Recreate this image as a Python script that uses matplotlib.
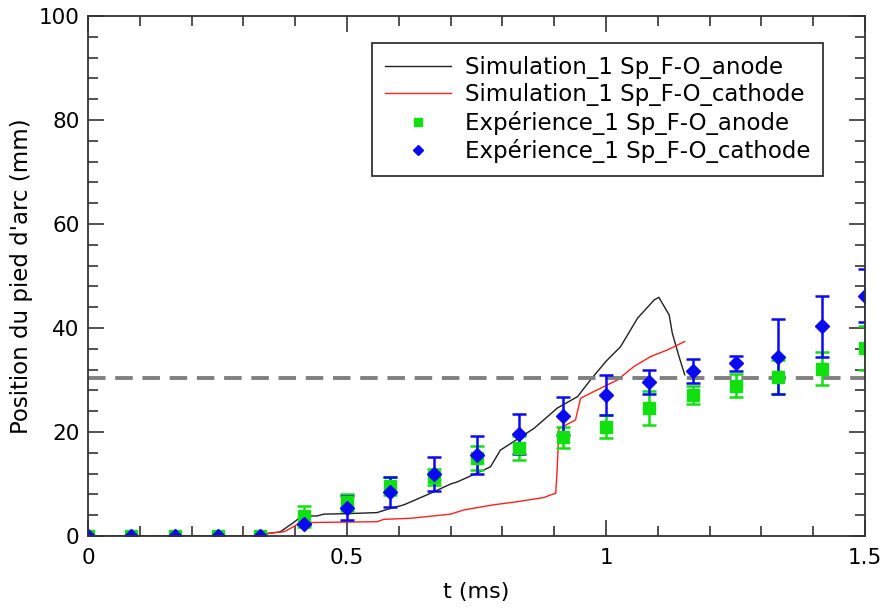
import matplotlib

matplotlib.use("Agg")
import matplotlib.pyplot as plt
from matplotlib.lines import Line2D
from matplotlib.ticker import MultipleLocator

# simulation curves (t in ms, position in mm)
t_sim_anode = [0.0, 0.33, 0.349, 0.371, 0.397, 0.413, 0.442, 0.455, 0.50, 0.558, 0.577,
               0.61, 0.661, 0.70, 0.713, 0.777, 0.796, 0.861, 0.906, 0.945, 0.97,
               1.0, 1.028, 1.061, 1.093, 1.102, 1.122, 1.128, 1.141, 1.152]
pos_sim_anode = [0.0, 0.0, 0.5, 0.8, 2.6, 3.85, 3.85, 4.2, 4.3, 4.5, 5.1,
                 6.0, 8.2, 10.0, 10.4, 13.3, 16.5, 20.7, 24.6, 26.8, 30.0,
                 33.6, 36.4, 41.9, 45.4, 45.9, 42.5, 39.0, 34.5, 31.0]

t_sim_cathode = [0.0, 0.33, 0.345, 0.378, 0.397, 0.41, 0.436, 0.558, 0.571, 0.622,
                 0.70, 0.725, 0.783, 0.829, 0.88, 0.893, 0.903, 0.906, 0.909, 0.916,
                 0.941, 0.951, 0.983, 1.022, 1.054, 1.086, 1.119, 1.152]
pos_sim_cathode = [0.0, 0.0, 0.5, 0.8, 1.8, 2.6, 2.6, 2.75, 3.2, 3.4,
                   4.2, 5.0, 6.0, 6.6, 7.4, 7.9, 8.2, 13.3, 20.7, 21.0,
                   22.3, 26.5, 28.1, 30.0, 32.6, 34.5, 35.8, 37.4]

# experimental points
t_exp = [0.0, 0.083, 0.167, 0.25, 0.333, 0.417, 0.5, 0.583, 0.667, 0.75,
         0.833, 0.917, 1.0, 1.083, 1.167, 1.25, 1.333, 1.417, 1.5]
exp_anode = [0, 0, 0, 0, 0, 3.8, 6.5, 9.6, 11.4, 15.0,
             17.0, 19.0, 21.0, 24.6, 27.1, 28.9, 30.6, 32.2, 36.1]
exp_anode_err = [0, 0, 0, 0, 0, 2.0, 1.6, 1.8, 1.5, 2.3,
                 2.3, 2.0, 2.2, 3.2, 1.8, 2.2, 3.3, 3.2, 4.2]
exp_cathode = [0, 0, 0, 0, 0, 2.4, 5.3, 8.5, 11.9, 15.6,
               19.6, 23.1, 27.1, 29.7, 31.8, 33.2, 34.5, 40.3, 46.2]
exp_cathode_err = [0, 0, 0, 0, 0, 0, 2.3, 2.9, 3.3, 3.6,
                   3.8, 3.7, 3.9, 2.3, 2.3, 1.4, 7.2, 5.9, 5.1]

threshold = 30.4

GREEN = "#10e010"
BLUE = "#0a0af0"
AXIS = "#333333"

plt.rcParams.update({"font.family": "DejaVu Sans", "font.size": 15})

fig = plt.figure(figsize=(8.83, 6.08), dpi=100)
ax = fig.add_axes([88 / 883, 72 / 608, 777 / 883, 520 / 608])

ax.plot(t_sim_anode, pos_sim_anode, color="#202020", lw=1.0)
ax.plot(t_sim_cathode, pos_sim_cathode, color="#ff2020", lw=1.0)
ax.axhline(threshold, color="#808080", lw=2.8, dashes=(4.5, 2.5))

ax.errorbar(t_exp, exp_anode, yerr=exp_anode_err, fmt="s", color=GREEN,
            ms=8, elinewidth=1.8, capsize=5, capthick=1.8, ls="none")
ax.errorbar(t_exp, exp_cathode, yerr=exp_cathode_err, fmt="D", color=BLUE,
            ms=7, elinewidth=1.8, capsize=5, capthick=1.8, ls="none")

ax.set_xlim(0, 1.5)
ax.set_ylim(0, 100)
ax.xaxis.set_major_locator(MultipleLocator(0.5))
ax.xaxis.set_minor_locator(MultipleLocator(0.1))
ax.yaxis.set_major_locator(MultipleLocator(20))
ax.yaxis.set_minor_locator(MultipleLocator(4))
ax.xaxis.set_major_formatter(plt.FuncFormatter(lambda v, p: f"{v:g}"))
ax.tick_params(which="both", direction="in", top=True, right=True, width=1.2,
               color=AXIS, labelsize=15.5)
ax.tick_params(which="major", length=11.5)
ax.tick_params(which="minor", length=7)
ax.tick_params(axis="x", pad=9)
ax.tick_params(axis="y", pad=6)
for s in ax.spines.values():
    s.set_linewidth(1.3)
    s.set_color(AXIS)

ax.set_xlabel("t (ms)", fontsize=16, labelpad=10)
ax.set_ylabel("Position du pied d'arc (mm)", fontsize=16.5, labelpad=4)

handles = [
    Line2D([], [], color="#202020", lw=1.0),
    Line2D([], [], color="#ff2020", lw=1.0),
    Line2D([], [], color=GREEN, marker="s", ms=6, ls="none"),
    Line2D([], [], color=BLUE, marker="D", ms=5, ls="none"),
]
labels = [
    "Simulation_1 Sp_F-O_anode",
    "Simulation_1 Sp_F-O_cathode",
    "Expérience_1 Sp_F-O_anode",
    "Expérience_1 Sp_F-O_cathode",
]
leg = ax.legend(handles, labels, loc="upper right", bbox_to_anchor=(0.946, 0.948),
                borderaxespad=0, fancybox=False, framealpha=1, edgecolor=AXIS,
                fontsize=16.5, handlelength=2.9, handletextpad=0.6,
                labelspacing=0.2, borderpad=0.55)
leg.get_frame().set_linewidth(1.3)

fig.savefig("out.png", dpi=100)
